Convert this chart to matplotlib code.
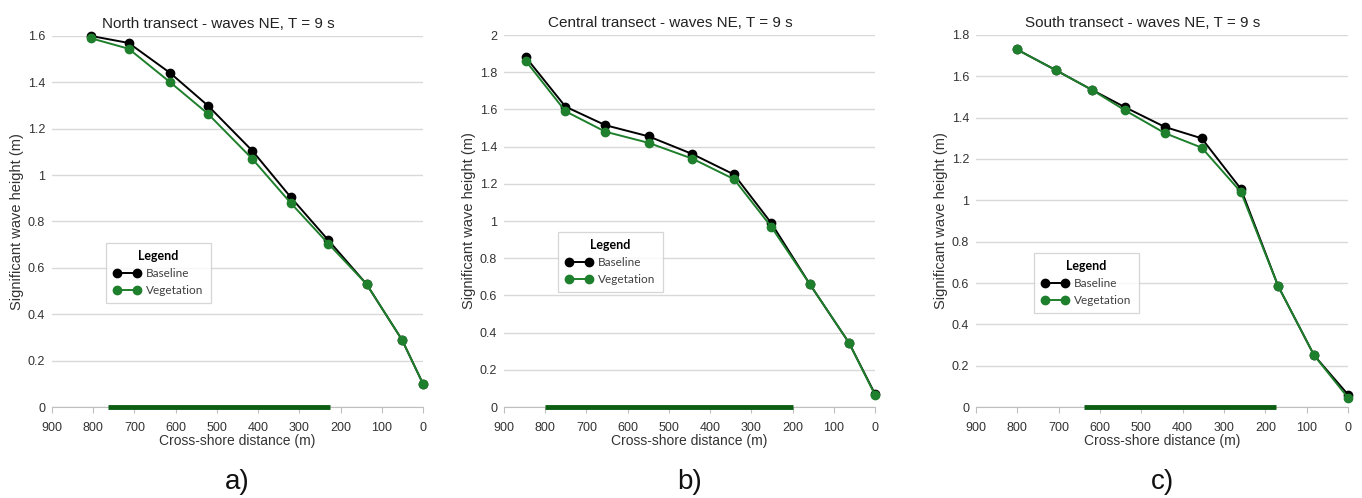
import numpy as np
import matplotlib
matplotlib.use("Agg")
import matplotlib.pyplot as plt
from matplotlib.ticker import FuncFormatter

plt.rcParams['font.family'] = ['Liberation Sans', 'DejaVu Sans']

# Cross-shore distances (m) and significant wave heights (m)
north_x = [805, 714, 613, 522, 414, 321, 230, 137, 51, 0]
north_base = [1.60, 1.57, 1.44, 1.30, 1.105, 0.905, 0.72, 0.53, 0.29, 0.10]
north_veg = [1.59, 1.545, 1.40, 1.265, 1.07, 0.88, 0.705, 0.53, 0.29, 0.10]

central_x = [847, 751, 654, 549, 443, 342, 252, 158, 63, 0]
central_base = [1.88, 1.615, 1.515, 1.455, 1.36, 1.25, 0.99, 0.66, 0.345, 0.07]
central_veg = [1.86, 1.59, 1.48, 1.42, 1.335, 1.225, 0.97, 0.66, 0.345, 0.065]

south_x = [801, 707, 620, 539, 443, 354, 259, 169, 82, 0]
south_base = [1.73, 1.63, 1.535, 1.45, 1.355, 1.30, 1.055, 0.585, 0.25, 0.06]
south_veg = [1.73, 1.63, 1.535, 1.435, 1.325, 1.255, 1.04, 0.585, 0.25, 0.045]

# vegetated stretch along the transect (m)
north_veg_zone = [763, 226]
central_veg_zone = [800, 200]
south_veg_zone = [638, 173]

titles = ["North transect - waves NE, T = 9 s",
          "Central transect - waves NE, T = 9 s",
          "South transect - waves NE, T = 9 s"]
letters = ["a)", "b)", "c)"]
ymaxes = [1.6, 2.0, 1.8]

green = '#1e7f2c'
bar_green = '#0c5e12'

fig = plt.figure(figsize=(13.62, 4.98), dpi=100)
W, H = 1362, 498
# axes boxes in pixels: left, right, top, bottom
boxes = [(52, 423, 36, 407), (504, 875, 35, 407), (976, 1348, 35, 407)]
legend_pos = [(0.146, 0.442), (0.146, 0.47), (0.156, 0.414)]

data = [(north_x, north_base, north_veg, north_veg_zone),
        (central_x, central_base, central_veg, central_veg_zone),
        (south_x, south_base, south_veg, south_veg_zone)]

for i, (l, r, t, b) in enumerate(boxes):
    ax = fig.add_axes([l / W, 1 - b / H, (r - l) / W, (b - t) / H])
    xs, base, veg, zone = data[i]

    ax.plot(xs, base, '-o', color='black', lw=1.4, ms=6, label='Baseline', zorder=3, clip_on=False)
    ax.plot(xs, veg, '-o', color=green, lw=1.4, ms=6, label='Vegetation', zorder=4, clip_on=False)
    ax.plot(zone, [0, 0], color=bar_green, lw=3.5, solid_capstyle='butt', clip_on=False, zorder=5)

    ax.set_xlim(900, 0)
    ax.set_ylim(0, ymaxes[i])
    ax.set_xticks(np.arange(900, -1, -100))
    ax.set_yticks(np.arange(0, ymaxes[i] + 0.01, 0.2))
    ax.yaxis.set_major_formatter(FuncFormatter(lambda v, p: '%g' % round(v, 1)))
    ax.grid(axis='y', color='#d9d9d9', lw=1)
    ax.set_axisbelow(True)
    for s in ['top', 'right', 'left']:
        ax.spines[s].set_visible(False)
    ax.spines['bottom'].set_color('#bfbfbf')
    ax.tick_params(axis='x', length=4, color='#bfbfbf', labelsize=9, pad=7, labelcolor='#333333')
    ax.tick_params(axis='y', length=0, labelsize=9, pad=5, labelcolor='#333333')

    ax.set_title(titles[i], fontsize=11, x=0.447, pad=6, color='#222222')
    ax.set_xlabel('Cross-shore distance (m)', fontsize=10, labelpad=0, color='#333333')
    ax.set_ylabel('Significant wave height (m)', fontsize=10.5, color='#333333')
    ax.yaxis.set_label_coords(-0.075, 0.5)

    leg = ax.legend(loc='upper left', bbox_to_anchor=legend_pos[i], title='Legend',
                    numpoints=2, frameon=True, fancybox=False, edgecolor='#cccccc',
                    handlelength=2.3, borderpad=0.6, labelspacing=0.5, handletextpad=0.5,
                    borderaxespad=0, prop={'family': ['Lato', 'DejaVu Sans'], 'size': 8.5})
    leg.get_frame().set_linewidth(0.9)
    leg.get_title().set_fontfamily(['Lato', 'DejaVu Sans'])
    leg.get_title().set_fontsize(9)
    leg.get_title().set_fontweight('bold')
    for txt in leg.get_texts():
        txt.set_color('#404040')

    ax.text(0.5, -0.202, letters[i], transform=ax.transAxes, ha='center', va='center',
            fontsize=20, color='#111111')

fig.savefig('out.png', dpi=100)
